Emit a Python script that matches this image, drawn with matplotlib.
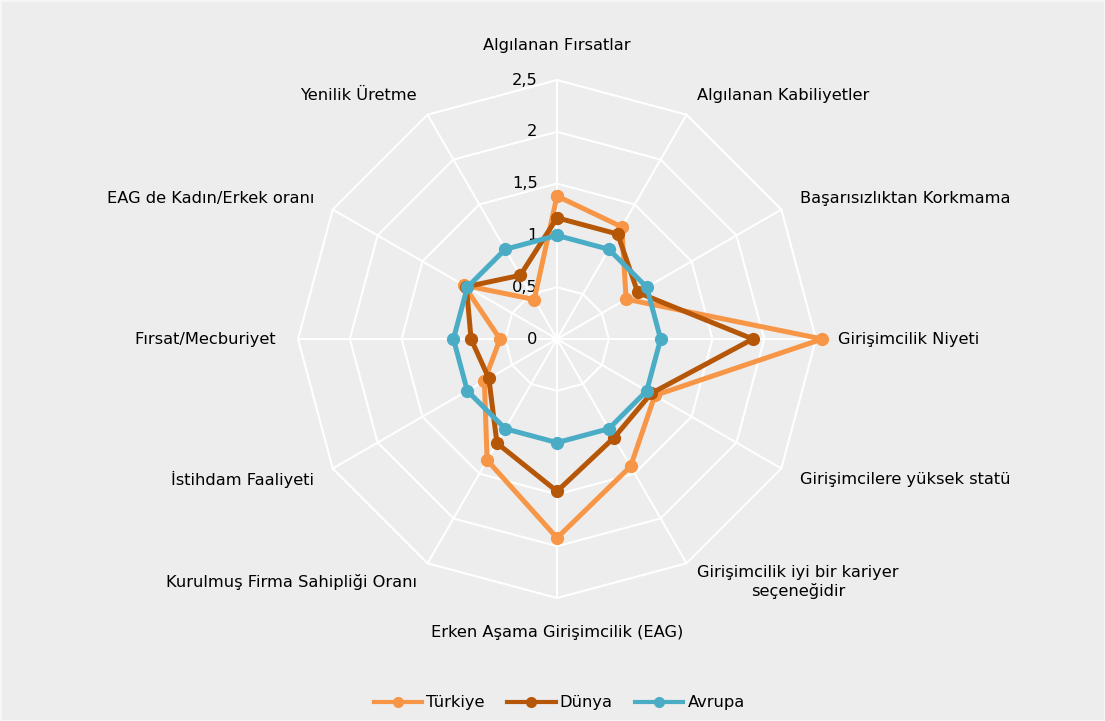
import numpy as np
import matplotlib.pyplot as plt
from matplotlib.patches import Rectangle
from matplotlib.lines import Line2D

categories = ['Algılanan Fırsatlar', 'Algılanan Kabiliyetler', 'Başarısızlıktan Korkmama',
              'Girişimcilik Niyeti', 'Girişimcilere yüksek statü',
              'Girişimcilik iyi bir kariyer\nseçeneğidir', 'Erken Aşama Girişimcilik (EAG)',
              'Kurulmuş Firma Sahipliği Oranı', 'İstihdam Faaliyeti', 'Fırsat/Mecburiyet',
              'EAG de Kadın/Erkek oranı', 'Yenilik Üretme']
turkiye = [1.38, 1.25, 0.77, 2.56, 1.09, 1.42, 1.92, 1.35, 0.81, 0.55, 1.04, 0.44]
dunya = [1.17, 1.17, 0.90, 1.89, 1.05, 1.10, 1.47, 1.16, 0.76, 0.83, 1.01, 0.71]
avrupa = [1.0] * 12
series_names = ['Türkiye', 'Dünya', 'Avrupa']
colors = ['#F79646', '#B65708', '#4BACC6']
ticks = [0, 0.5, 1, 1.5, 2, 2.5]
tick_labels = ['0', '0,5', '1', '1,5', '2', '2,5']

plt.rcParams['font.family'] = ['DejaVu Sans']
fs = 11.7
bg = '#EDEDED'
fig = plt.figure(figsize=(11.05, 7.21), dpi=100, facecolor=bg)
fig.patches.append(Rectangle((0, 0), 1, 1, transform=fig.transFigure,
                             facecolor='none', edgecolor='#F7F7F7', lw=2))
ax = fig.add_axes([0.2697, 0.1706, 0.4688, 0.7184], projection='polar')
ax.set_facecolor(bg)
ax.set_theta_zero_location('N')
ax.set_theta_direction(-1)
ax.set_ylim(0, 2.5)
ax.grid(False)
ax.spines['polar'].set_visible(False)
ax.set_xticks([])
ax.set_yticks([])

n = len(categories)
ang = np.linspace(0, 2 * np.pi, n, endpoint=False)
ang_c = np.append(ang, ang[0])

# polygon grid
for t in ticks[1:]:
    ax.plot(ang_c, [t] * (n + 1), color='white', lw=1.5, zorder=1, clip_on=False)
for a in ang:
    ax.plot([a, a], [0, 2.5], color='white', lw=1.5, zorder=1, clip_on=False)

for t, lab in zip(ticks, tick_labels):
    ax.annotate(lab, xy=(0, t), xytext=(-14, 0), textcoords='offset points',
                ha='right', va='center', fontsize=fs, color='black')

for vals, name, c in zip([turkiye, dunya, avrupa], series_names, colors):
    v = np.append(vals, vals[0])
    ax.plot(ang_c, v, color=c, lw=3.6, marker='o', markersize=8.5, label=name,
            zorder=3, clip_on=False)

for a, lab in zip(ang, categories):
    s = np.sin(a)
    if abs(s) < 0.01:
        ax.text(a, 2.83, lab, ha='center', va='center', fontsize=fs)
    else:
        ax.text(a, 2.71, lab, ha='left' if s > 0 else 'right', va='center',
                fontsize=fs, multialignment='center')

handles = [Line2D([], [], color=c, lw=3, marker='o', markersize=7) for c in colors]
fig.legend(handles, series_names, loc='center', bbox_to_anchor=(0.506, 0.025), ncol=3,
           frameon=False, fontsize=fs, handlelength=3.0, handletextpad=0.25,
           columnspacing=1.35)

fig.savefig('out.png', dpi=100, facecolor=bg)
